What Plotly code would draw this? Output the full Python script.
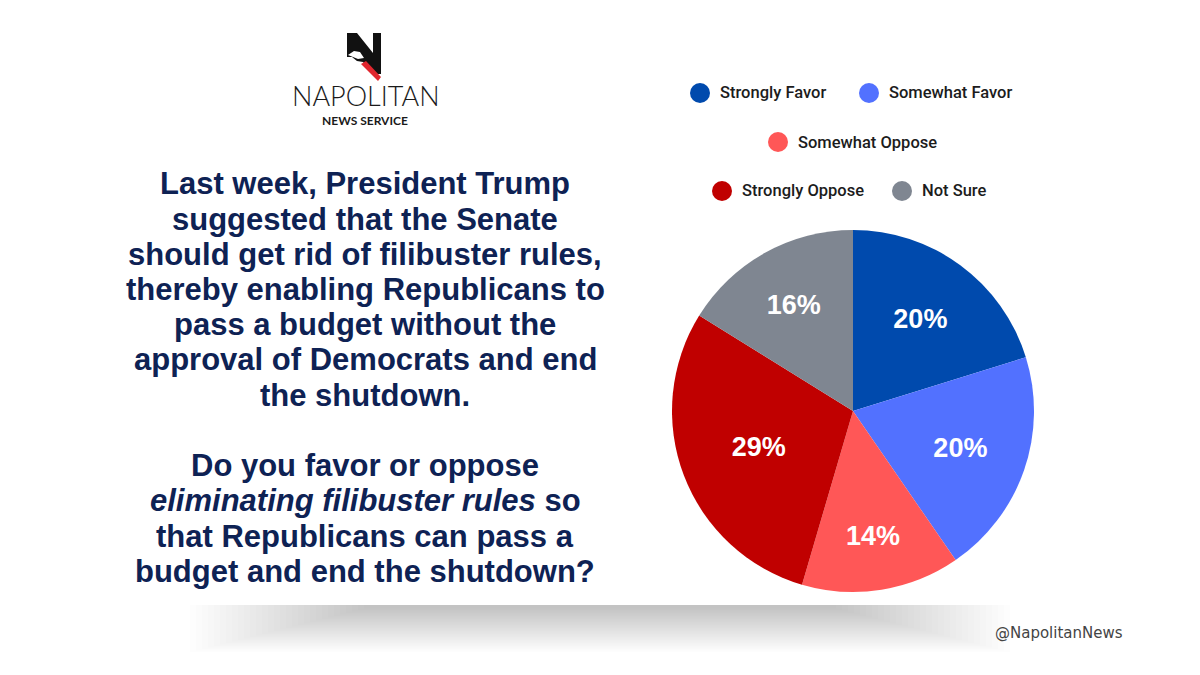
import plotly.graph_objects as go

W, H = 1200, 675
OFF = 8  # page body margin

categories = ["Strongly Favor", "Somewhat Favor", "Somewhat Oppose", "Strongly Oppose", "Not Sure"]
values = [20, 20, 14, 29, 16]
colors = ["#004aad", "#5271ff", "#ff5757", "#c00000", "#7f8691"]

title_lines = [
    "Last week, President Trump",
    "suggested that the Senate",
    "should get rid of filibuster rules,",
    "thereby enabling Republicans to",
    "pass a budget without the",
    "approval of Democrats and end",
    "the shutdown.",
    "",
    "Do you favor or oppose",
    "<i>eliminating filibuster rules</i> so",
    "that Republicans can pass a",
    "budget and end the shutdown?",
]


def px(x, y):
    return (x - OFF) / W, 1 - (y - OFF) / H


fig = go.Figure()

# pie domain
cx, cy, r = 853, 411, 181
x0, y1 = px(cx - r, cy - r)
x1, y0 = px(cx + r, cy + r)
fig.add_trace(go.Pie(
    labels=categories, values=values, sort=False, direction="clockwise", rotation=0,
    marker=dict(colors=colors, line=dict(width=0)),
    texttemplate="<b>%{value}%</b>", textposition="inside", insidetextorientation="horizontal",
    textfont=dict(family="Liberation Sans, Arial", size=27, color="white"),
    domain=dict(x=[x0, x1], y=[y0, y1]), showlegend=False, hoverinfo="label+value",
))

shapes = []
annotations = []

# soft shadow under card
N = 30
for i in range(N):
    sx0 = 190 + i * 6
    sx1 = 1010 - i * 6
    sy1 = 652 - i * 1.5
    a0, b1 = px(sx0, 605)
    a1, b0 = px(sx1, sy1)
    shapes.append(dict(type="rect", xref="paper", yref="paper", x0=a0, x1=a1, y0=b0, y1=b1,
                       fillcolor="rgba(0,0,0,0.0075)", line=dict(width=0), layer="below"))


def path(points):
    s = ""
    for i, (x, y) in enumerate(points):
        X, Y = px(x, y)
        s += ("M" if i == 0 else "L") + f"{X:.5f},{Y:.5f} "
    return s + "Z"


# logo N
shapes.append(dict(type="path", xref="paper", yref="paper",
                   path=path([(347, 33), (357, 33), (373, 53), (373, 33), (381, 33), (381, 74),
                              (373, 74), (363, 62), (357, 61), (352, 57), (347, 57)]),
                   fillcolor="#111111", line=dict(width=0)))
shapes.append(dict(type="path", xref="paper", yref="paper",
                   path=path([(348, 55), (354, 51), (360, 52), (364, 58), (358, 59), (353, 57)]),
                   fillcolor="white", line=dict(width=0)))
shapes.append(dict(type="path", xref="paper", yref="paper",
                   path=path([(361, 64), (366, 61), (381, 77), (378, 81)]),
                   fillcolor="#e0262e", line=dict(width=0)))

ax, ay = px(366, 96)
annotations.append(dict(text="NAPOLITAN", x=ax, y=ay, xref="paper", yref="paper", showarrow=False,
                        xanchor="center", yanchor="middle",
                        font=dict(family="Lato, Noto Sans", size=27, weight=300, color="#1a1a1a")))
ax, ay = px(365, 120.5)
annotations.append(dict(text="NEWS SERVICE", x=ax, y=ay, xref="paper", yref="paper", showarrow=False,
                        xanchor="center", yanchor="middle",
                        font=dict(family="Lato, Noto Sans", size=12, weight=700, color="#1a1a1a")))

# title, one annotation per line
for i, line in enumerate(title_lines):
    if not line:
        continue
    ax, ay = px(365, 184 + i * 35.2)
    annotations.append(dict(text="<b>" + line + "</b>", x=ax, y=ay, xref="paper", yref="paper",
                            showarrow=False, xanchor="center", yanchor="middle", align="center",
                            font=dict(family="Liberation Sans, Arial", size=31, color="#0e2254")))

# legend
legend_pos = [(700, 93), (869, 93), (778, 142), (722, 191), (902, 191)]
for (lx, ly), cat, col in zip(legend_pos, categories, colors):
    a0, b1 = px(lx - 10, ly - 10)
    a1, b0 = px(lx + 10, ly + 10)
    shapes.append(dict(type="circle", xref="paper", yref="paper", x0=a0, x1=a1, y0=b0, y1=b1,
                       fillcolor=col, line=dict(width=0)))
    tx, ty = px(lx + 18, ly)
    annotations.append(dict(text=cat, x=tx, y=ty, xref="paper", yref="paper", showarrow=False,
                            xanchor="left", yanchor="middle",
                            font=dict(family="Roboto", size=16.5, weight=500, color="#1c1c1c")))

# watermark
tx, ty = px(1125, 633)
annotations.append(dict(text="@NapolitanNews", x=tx, y=ty, xref="paper", yref="paper", showarrow=False,
                        xanchor="right", yanchor="middle",
                        font=dict(family="DejaVu Sans", size=15, color="#444444")))

fig.update_layout(
    width=W, height=H, margin=dict(l=0, r=0, t=0, b=0),
    paper_bgcolor="white", plot_bgcolor="white",
    shapes=shapes, annotations=annotations,
)

fig.write_html("out.html")
